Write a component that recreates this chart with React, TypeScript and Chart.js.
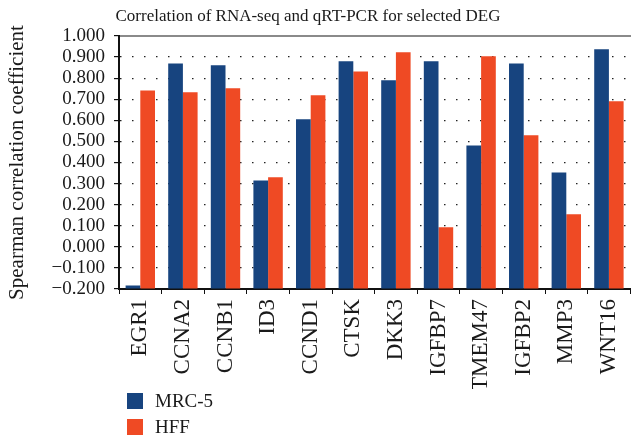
import { useEffect, useRef } from 'react';
import { Chart, registerables } from 'chart.js';

Chart.register(...registerables);

const categories = ['EGR1', 'CCNA2', 'CCNB1', 'ID3', 'CCND1', 'CTSK', 'DKK3', 'IGFBP7', 'TMEM47', 'IGFBP2', 'MMP3', 'WNT16'];
const mrc5Values = [-0.183, 0.870, 0.861, 0.315, 0.605, 0.880, 0.790, 0.880, 0.481, 0.870, 0.353, 0.937];
const hffValues = [0.742, 0.733, 0.752, 0.330, 0.719, 0.832, 0.923, 0.093, 0.904, 0.529, 0.154, 0.690];
const seriesNames = ['MRC-5', 'HFF'];
const seriesColors = ['#17447F', '#EF4A24'];
const yMin = -0.2;
const yMax = 1.0;
const yStep = 0.1;
const titleText = 'Correlation of RNA-seq and qRT-PCR for selected DEG';
const yTitleText = 'Spearman correlation coefficient';

const FONT = "'Liberation Serif', 'Times New Roman', serif";
const TEXT = '#1a1a1a';

const fmt = (v: number) => {
  let n = Number(v);
  if (Math.abs(n) < 1e-9) n = 0;
  return n.toFixed(3).replace('-', '\u2212');
};

const decorPlugin = {
  id: 'decor',
  afterDraw(chart: any) {
    const ctx = chart.ctx;
    const area = chart.chartArea;
    ctx.save();
    ctx.fillStyle = TEXT;
    ctx.font = `17px ${FONT}`;
    ctx.textAlign = 'center';
    ctx.textBaseline = 'middle';
    ctx.fillText(titleText, 308, 17);
    ctx.textAlign = 'left';
    ctx.font = `19px ${FONT}`;
    chart.data.datasets.forEach((ds: any, i: number) => {
      const cy = 401 + i * 26;
      ctx.fillStyle = ds.backgroundColor;
      ctx.fillRect(area.left + 8, cy - 8, 16, 16);
      ctx.fillStyle = TEXT;
      ctx.fillText(ds.label, area.left + 36, cy + 1);
    });
    ctx.restore();
  },
};

export default function App() {
  const ref = useRef<HTMLCanvasElement | null>(null);
  useEffect(() => {
    if (!ref.current) return;
    const chart = new Chart(ref.current, {
      type: 'bar',
      data: {
        labels: categories,
        datasets: [
          { label: seriesNames[0], data: mrc5Values, backgroundColor: seriesColors[0], base: yMin, categoryPercentage: 0.69, barPercentage: 1.0 } as any,
          { label: seriesNames[1], data: hffValues, backgroundColor: seriesColors[1], base: yMin, categoryPercentage: 0.69, barPercentage: 1.0 } as any,
        ],
      },
      options: {
        responsive: false,
        animation: false,
        devicePixelRatio: 1,
        layout: { padding: { top: 36, bottom: 48, left: 0, right: 0 } },
        plugins: {
          legend: { display: false },
          title: { display: false },
          tooltip: { enabled: false },
        },
        scales: {
          x: {
            offset: true,
            grid: { display: true, drawOnChartArea: false, drawTicks: true, tickLength: 5, tickColor: '#111', offset: true },
            border: { color: '#111', width: 2 },
            ticks: { minRotation: 90, maxRotation: 90, autoSkip: false, font: { family: FONT, size: 23 }, color: TEXT, padding: 5 },
            afterFit: (s: any) => { s.height = 100; },
          },
          xTop: {
            type: 'category',
            position: 'top',
            grid: { display: false },
            ticks: { display: false },
            border: { color: '#8a8a8a', width: 2 },
            afterFit: (s: any) => { s.height = 0; },
          },
          y: {
            min: yMin,
            max: yMax,
            ticks: {
              stepSize: yStep,
              autoSkip: false,
              callback: (v: any) => fmt(v),
              font: { family: FONT, size: 19 },
              color: TEXT,
              padding: 9,
            },
            grid: {
              color: '#222',
              lineWidth: 1.2,
              tickLength: 5,
              tickColor: '#111',
              drawTicks: true,
            },
            border: { color: '#111', width: 2, dash: [1.5, 10.5] },
            title: { display: true, text: yTitleText, font: { family: FONT, size: 21 }, color: TEXT, padding: { top: 5, bottom: 0 } },
            afterFit: (s: any) => { s.width = 119; },
          },
        } as any,
      },
      plugins: [decorPlugin],
    });
    return () => chart.destroy();
  }, []);
  return (
    <div style={{ position: 'absolute', left: 0, top: 0, width: 642, height: 437 }}>
      <canvas ref={ref} width={642} height={437} />
    </div>
  );
}
